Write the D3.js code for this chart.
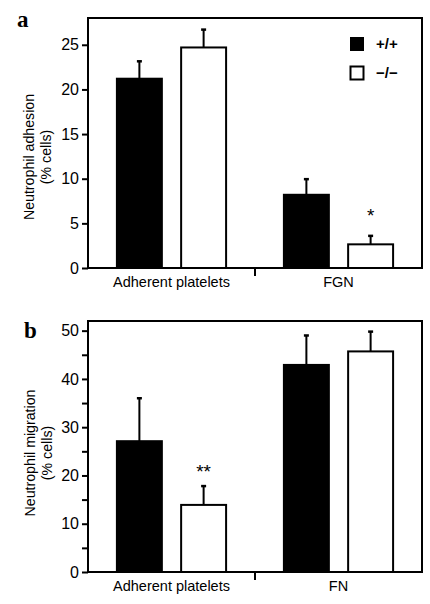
<!DOCTYPE html>
<html><head><meta charset="utf-8">
<script src="https://cdn.jsdelivr.net/npm/d3@7"></script>
<style>
html,body{margin:0;padding:0;background:#fff;}
svg{display:block;font-family:"Liberation Sans",Arial,sans-serif;}
</style></head>
<body><svg id="c" width="430" height="604"></svg>
<script>
// ---- data ----
const seriesNames = ["+/+", "\u2212/\u2212"];
const catsA = ["Adherent platelets", "FGN"];
const meanA_wt = [21.2, 8.2];
const errA_wt = [23.15, 9.95];
const meanA_ko = [24.7, 2.65];
const errA_ko = [26.7, 3.6];
const sigA = ["", "*"];
const ticksA = [0, 5, 10, 15, 20, 25];

const catsB = ["Adherent platelets", "FN"];
const meanB_wt = [27.1, 42.9];
const errB_wt = [36.0, 49.0];
const meanB_ko = [13.9, 45.7];
const errB_ko = [17.8, 49.8];
const sigB = ["**", ""];
const ticksB = [0, 10, 20, 30, 40, 50];
const minorTicksB = [5, 15, 25, 35, 45];

const svg = d3.select("#c");
const FONT = "Liberation Sans, Arial, sans-serif";

function panel(opt) {
  const g = svg.append("g");
  const x = d3.scaleBand().domain(opt.cats).range([88, 422]);
  const y = d3.scaleLinear().domain([0, opt.ymax]).range([opt.bottom, opt.top]);
  const sub = d3.scaleBand().domain(seriesNames).range([0, x.bandwidth()]).paddingInner(0.3).paddingOuter(0.45);

  const rows = [];
  opt.cats.forEach((c, i) => {
    rows.push({cat: c, s: seriesNames[0], v: opt.wt[i], e: opt.wtErr[i], fill: "#000"});
    rows.push({cat: c, s: seriesNames[1], v: opt.ko[i], e: opt.koErr[i], fill: "#fff"});
  });
  rows.forEach(r => {
    const cx = x(r.cat) + sub(r.s) + sub.bandwidth() / 2;
    g.append("line").attr("x1", cx).attr("x2", cx).attr("y1", y(r.v)).attr("y2", y(r.e))
      .attr("stroke", "#000").attr("stroke-width", 2);
    g.append("line").attr("x1", cx - 2.5).attr("x2", cx + 2.5).attr("y1", y(r.e)).attr("y2", y(r.e))
      .attr("stroke", "#000").attr("stroke-width", 2.5);
  });
  rows.forEach(r => {
    g.append("rect").attr("x", x(r.cat) + sub(r.s)).attr("width", sub.bandwidth())
      .attr("y", y(r.v)).attr("height", y(0) - y(r.v))
      .attr("fill", r.fill).attr("stroke", "#000").attr("stroke-width", 2);
  });
  opt.sig.forEach((s, i) => {
    if (!s) return;
    const cx = x(opt.cats[i]) + sub(seriesNames[1]) + sub.bandwidth() / 2;
    g.append("text").attr("x", cx).attr("y", y(opt.koErr[i]) - opt.sigGap)
      .attr("text-anchor", "middle").attr("font-size", 19).attr("fill", "#000")
      .attr("font-family", FONT).text(s);
  });

  g.append("rect").attr("x", 88).attr("y", opt.top).attr("width", 334).attr("height", opt.bottom - opt.top)
    .attr("fill", "none").attr("stroke", "#000").attr("stroke-width", 2);

  const ya = g.append("g").attr("transform", "translate(88,0)")
    .call(d3.axisLeft(y).tickValues(opt.ticks).tickSize(6).tickPadding(3).tickFormat(d3.format("d")));
  ya.select(".domain").remove();
  ya.selectAll("line").attr("stroke-width", 2);
  ya.selectAll("text").attr("font-size", 16).attr("font-family", FONT).attr("fill", "#000");
  if (opt.minor) {
    const ym = g.append("g").attr("transform", "translate(88,0)")
      .call(d3.axisLeft(y).tickValues(opt.minor).tickSize(6).tickFormat(""));
    ym.select(".domain").remove();
    ym.selectAll("line").attr("stroke-width", 2);
  }

  const xa = g.append("g").attr("transform", `translate(0,${opt.bottom})`)
    .call(d3.axisBottom(x).tickSize(0).tickPadding(9));
  xa.select(".domain").remove();
  xa.selectAll("text").attr("font-size", 14.5).attr("font-family", FONT).attr("fill", "#000");
  g.append("line").attr("x1", 88 + 167).attr("x2", 88 + 167).attr("y1", opt.bottom).attr("y2", opt.bottom + 8)
    .attr("stroke", "#000").attr("stroke-width", 2);

  const t = g.append("text").attr("transform", `translate(${opt.titleX},${opt.titleY}) rotate(-90)`)
    .attr("text-anchor", "middle").attr("font-size", 14.2).attr("font-family", FONT).attr("fill", "#000");
  t.append("tspan").attr("x", 0).attr("dy", 0).text(opt.title);
  t.append("tspan").attr("x", 0).attr("dy", 16.5).text("(% cells)");

  g.append("text").attr("x", opt.letterX).attr("y", opt.letterY)
    .attr("font-family", "Liberation Serif, Times New Roman, serif").attr("font-weight", "bold")
    .attr("font-size", 23).text(opt.letter);
}

panel({cats: catsA, wt: meanA_wt, wtErr: errA_wt, ko: meanA_ko, koErr: errA_ko, sig: sigA, sigGap: 14,
  ticks: ticksA, ymax: 28, top: 18, bottom: 268, title: "Neutrophil adhesion",
  titleX: 34, titleY: 157, letter: "a", letterX: 17, letterY: 27});

panel({cats: catsB, wt: meanB_wt, wtErr: errB_wt, ko: meanB_ko, koErr: errB_ko, sig: sigB, sigGap: 8,
  ticks: ticksB, minor: minorTicksB, ymax: 52, top: 321, bottom: 572, title: "Neutrophil migration",
  titleX: 35, titleY: 453, letter: "b", letterX: 24, letterY: 338});

const leg = svg.append("g");
seriesNames.forEach((s, i) => {
  const yy = 37 + i * 29;
  leg.append("rect").attr("x", 350).attr("y", yy).attr("width", i ? 13 : 14).attr("height", i ? 13 : 14)
    .attr("fill", i ? "#fff" : "#000").attr("stroke", "#000").attr("stroke-width", i ? 2 : 0)
    .attr("transform", i ? "translate(0.5,0.5)" : null);
  leg.append("text").attr("x", 376).attr("y", yy + 12).attr("font-size", 15).attr("font-weight", "bold")
    .attr("font-family", FONT).text(s);
});
</script></body></html>
